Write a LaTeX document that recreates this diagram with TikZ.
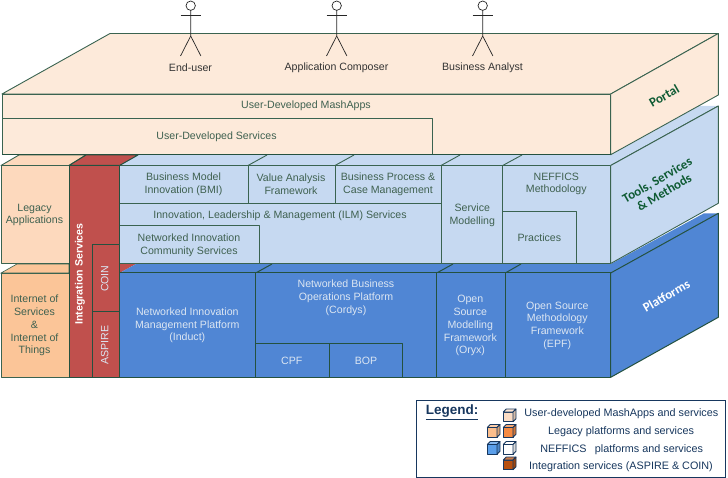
\documentclass[tikz,border=0pt]{standalone}
\usepackage{fontspec}
\setmainfont{Liberation Sans}
\newfontfamily\sidefont{Carlito}
\definecolor{edge}{HTML}{3A6350}
\definecolor{darkedge}{HTML}{24513F}
\definecolor{portalfill}{HTML}{FDEADA}
\definecolor{toolfill}{HTML}{C6D9F1}
\definecolor{platfill}{HTML}{5086D4}
\definecolor{redfill}{HTML}{C0504D}
\definecolor{legacyfill}{HTML}{FDD9BD}
\definecolor{iotfill}{HTML}{FBC598}
\definecolor{txtdark}{HTML}{3F6150}
\definecolor{txtlight}{HTML}{DCE6F2}
\definecolor{sidegreen}{HTML}{0F5B34}
\definecolor{legendnavy}{HTML}{17375E}
\definecolor{cubepeach}{HTML}{FBDCC4}
\definecolor{cubetan}{HTML}{FBBE8C}
\definecolor{cubeorange}{HTML}{F58A42}
\definecolor{cubeblue}{HTML}{5B9FEA}
\definecolor{cubebrown}{HTML}{B8500F}
\newcommand{\legendcube}[3]{%
  \draw[cubeline,fill=#3] (#1,#2+3) rectangle (#1+9.7,#2+12.7);
  \draw[cubeline,fill=#3!75!white] (#1,#2+3) -- (#1+3,#2) -- (#1+12.7,#2) -- (#1+9.7,#2+3) -- cycle;
  \draw[cubeline,fill=#3!85!black] (#1+9.7,#2+3) -- (#1+12.7,#2) -- (#1+12.7,#2+9.7) -- (#1+9.7,#2+12.7) -- cycle;
}
\tikzset{
  x=1pt,y=-1pt,
  every node/.style={inner sep=0pt,outer sep=0pt,align=center,yshift=-1pt,font=\fontsize{10.6}{12.8}\selectfont},
  boxline/.style={draw=edge,line width=0.9pt,line join=round},
  darkline/.style={draw=darkedge,line width=1pt,line join=round},
  portalbox/.style={boxline,fill=portalfill},
  toolbox/.style={boxline,fill=toolfill},
  platbox/.style={darkline,fill=platfill},
  redbox/.style={darkline,fill=redfill},
  dark/.style={text=txtdark},
  light/.style={text=txtlight},
  sidelabel/.style={font=\sidefont\bfseries\fontsize{13}{14}\selectfont,rotate=30},
  actorline/.style={draw=black!85,line width=0.7pt},
  cubeline/.style={draw=legendnavy,line width=0.8pt,line join=round},
  legendtext/.style={text=legendnavy,font=\fontsize{10.8}{12}\selectfont},
}
\begin{document}
\begin{tikzpicture}
\useasboundingbox (0,0) rectangle (728,478);

% --- Platforms layer ---
\fill[iotfill,draw=edge,line width=0.6pt] (1,273) -- (17,264) -- (69,264) -- (69,273) -- cycle;
\fill[redfill] (119.5,273) -- (136,264) -- (119.5,264) -- cycle;
\path[platbox,draw=none] (119.5,273) -- (136,264) -- (610.7,264) -- (704,213.3) -- (718.3,213.3) -- (610.7,273) -- cycle;
\draw[darkline] (255.7,273) -- (272,264);
\draw[darkline] (436.7,273) -- (453,264);
\draw[darkline] (505.3,273) -- (521,264);
\path[platbox] (610.7,273) -- (718.3,213.3) -- (718.3,317.3) -- (610.7,377.3) -- cycle;
\path[platbox] (119.5,273) rectangle (255.7,377.3);
\path[platbox] (255.7,273) rectangle (436.7,377.3);
\path[platbox] (255.7,343.3) rectangle (329,377.3);
\path[platbox] (329,343.3) rectangle (402.7,377.3);
\path[platbox] (436.7,273) rectangle (505.3,377.3);
\path[platbox] (505.3,273) rectangle (610.7,377.3);
\path[boxline,fill=iotfill] (1,273) rectangle (69,377.3);

% --- Tools layer ---
\path[toolbox,draw=none] (120,165.5) -- (138,155) -- (610.7,155) -- (699,106) -- (718.3,106) -- (610.7,165.5) -- cycle;
\draw[boxline] (248,165.5) -- (267,155);
\draw[boxline] (335,165.5) -- (354,155);
\draw[boxline] (441,165.5) -- (460,155);
\draw[boxline] (502.7,165.5) -- (522,155);
\draw[boxline] (610.7,165.5) -- (718.3,106);
\path[toolbox] (610.7,165.5) -- (718.3,106) -- (718.3,203.3) -- (610.7,263.5) -- cycle;
\path[toolbox] (119.5,165.5) rectangle (248,203.3);
\path[toolbox] (248,165.5) rectangle (335,203.3);
\path[toolbox] (335,165.5) rectangle (441,203.3);
\path[toolbox] (119.5,203.3) rectangle (441,263.5);
\draw[boxline] (119.5,225.7) -- (259,225.7) -- (259,263.5);
\path[toolbox] (441,165.5) rectangle (502.7,263.5);
\path[toolbox] (502.7,165.5) rectangle (610.7,263.5);
\path[toolbox] (502.7,211) rectangle (576.7,263.5);

% --- Legacy and integration columns ---
\path[boxline,fill=legacyfill] (1,165.5) -- (19,155) -- (86,155) -- (69,165.5) -- cycle;
\path[boxline,fill=legacyfill] (1,165.5) rectangle (69,263.5);
\path[redbox] (69,165.5) -- (86,155) -- (138,155) -- (119.5,165.5) -- cycle;
\path[redbox] (69,165.5) rectangle (119.5,377.3);
\path[redbox] (92.3,244.3) -- (119.5,244.3) -- (119.5,311.7) -- (92.3,311.7) -- cycle;
\path[redbox] (92.3,311.7) rectangle (119.5,377.3);

% --- Portal layer ---
\path[portalbox] (2,94) -- (110,33.5) -- (718.3,33.5) -- (610.7,94) -- cycle;
\path[portalbox] (610.7,94) -- (718.3,33.5) -- (718.3,95) -- (610.7,154.7) -- cycle;
\path[portalbox] (2,94) rectangle (610.7,154.7);
\draw[boxline] (2,118) -- (432.7,118) -- (432.7,154.7);
\draw[darkline] (2,154.7) -- (610.7,154.7);

% --- Actors ---
\foreach \ax/\aname in {190.7/actora,336.7/actorb,482.7/actorc}{
  \draw[actorline,fill=white] (\ax,5.7) circle (4.7);
  \draw[actorline] (\ax,10.4) -- (\ax,36) -- (\ax-10.2,56);
  \draw[actorline] (\ax,36) -- (\ax+10.2,56);
  \draw[actorline] (\ax-10.2,15.3) -- (\ax+10.2,15.3);
}
\node[text=black!80] (enduser) at (190.5,67) {End-user};
\node[text=black!80] (composer) at (336.5,67) {Application Composer};
\node[text=black!80] (analyst) at (482.5,67) {Business Analyst};

% --- Portal labels ---
\node[dark] (mashapps) at (306,105) {User-Developed MashApps};
\node[dark] (uservices) at (216.5,135.5) {User-Developed Services};
\node[sidelabel,text=sidegreen] (portal) at (664,95) {Portal};

% --- Tools labels ---
\node[dark] (bmi) at (183.5,183.5) {Business Model\\Innovation (BMI)};
\node[dark] (vaf) at (291,183.5) {Value Analysis\\Framework};
\node[dark] (bpcm) at (388,183.5) {Business Process \&\\Case Management};
\node[dark] (ilm) at (280,214.5) {Innovation, Leadership \& Management (ILM) Services};
\node[dark] (nics) at (189,244.5) {Networked Innovation\\Community Services};
\node[dark] (svcm) at (472.3,214.3) {Service\\Modelling};
\node[dark] (nefm) at (556.3,183) {NEFFICS\\Methodology};
\node[dark] (practices) at (539.3,236.7) {Practices};
\node[sidelabel,text=sidegreen] (tools) at (660.7,185) {Tools, Services\\\& Methods};

% --- Legacy labels ---
\node[dark] (legacy) at (34.5,214) {Legacy\\Applications};
\node[dark] (iot) at (34.5,324.5) {Internet of\\Services\\\&\\Internet of\\Things};

% --- Integration labels ---
\node[text=white,rotate=90,font=\bfseries\fontsize{10.6}{12.8}\selectfont] (integration) at (80,273) {Integration Services};
\node[light,rotate=90] (coin) at (104.7,277.7) {COIN};
\node[light,rotate=90] (aspire) at (104.7,344) {ASPIRE};

% --- Platform labels ---
\node[light] (nimp) at (187.3,324.3) {Networked Innovation\\Management Platform\\(Induct)};
\node[light] (nbop) at (346,297) {Networked Business\\Operations Platform\\(Cordys)};
\node[light] (cpf) at (291.7,359.5) {CPF};
\node[light] (bop) at (366,359.5) {BOP};
\node[light] (oryx) at (470.3,324.7) {Open\\Source\\Modelling\\Framework\\(Oryx)};
\node[light] (epf) at (557.3,324.7) {Open Source\\Methodology\\Framework\\(EPF)};
\node[sidelabel,text=white] (platforms) at (666.3,295) {Platforms};

% --- Legend ---
\path[draw=legendnavy,line width=1pt,fill=white] (416,400) rectangle (725,477);
\node[text=legendnavy,font=\bfseries\fontsize{13.5}{15}\selectfont] (legendtitle) at (452,411) {\underline{Legend:}};
\legendcube{503.3}{409}{cubepeach}
\legendcube{487.3}{424.5}{cubetan}
\legendcube{503.3}{424.5}{cubeorange}
\legendcube{487.3}{441.5}{cubeblue}
\legendcube{503.3}{441.5}{white}
\legendcube{503.3}{457}{cubebrown}
\node[legendtext] (la) at (621.3,412.5) {User-developed MashApps and services};
\node[legendtext] (lb) at (621,430.5) {Legacy platforms and services};
\node[legendtext] (lc) at (621.7,448.5) {NEFFICS\hspace{0.5em} platforms and services};
\node[legendtext] (ld) at (621,465.5) {Integration services (ASPIRE \& COIN)};
\end{tikzpicture}
\end{document}
